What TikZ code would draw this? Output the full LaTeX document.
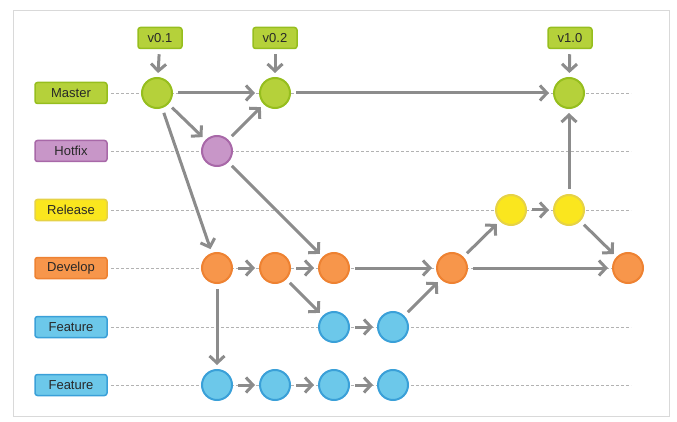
\documentclass[tikz,border=0pt]{standalone}
\usepackage{fontspec}
\setmainfont{Liberation Sans}
\usetikzlibrary{arrows.meta, positioning}
\definecolor{mygreen}{RGB}{181,209,58}
\definecolor{bdgreen}{RGB}{150,190,30}
\definecolor{mypurple}{RGB}{200,150,200}
\definecolor{bdpurple}{RGB}{168,104,168}
\definecolor{myyellow}{RGB}{250,230,30}
\definecolor{bdyellow}{RGB}{230,210,70}
\definecolor{myorange}{RGB}{247,150,75}
\definecolor{bdorange}{RGB}{238,130,50}
\definecolor{myblue}{RGB}{108,200,234}
\definecolor{bdblue}{RGB}{58,160,216}
\definecolor{mygray}{RGB}{140,140,140}
\definecolor{mytext}{RGB}{40,40,40}
\tikzset{
  branch/.style={rectangle, rounded corners=2.5pt, minimum width=72pt,
    minimum height=21pt, inner sep=0pt, line width=1.5pt,
    font=\fontsize{13}{15}\selectfont, text=mytext},
  tag/.style={branch, minimum width=44pt, draw=bdgreen, fill=mygreen},
  commit/.style={circle, minimum size=30pt, inner sep=0pt, line width=2pt},
  gcommit/.style={commit, draw=bdgreen, fill=mygreen},
  pcommit/.style={commit, draw=bdpurple, fill=mypurple},
  ycommit/.style={commit, draw=bdyellow, fill=myyellow},
  ocommit/.style={commit, draw=bdorange, fill=myorange},
  bcommit/.style={commit, draw=bdblue, fill=myblue},
  arrow/.style={-{Straight Barb[length=7pt, width=15pt]}, line width=3pt,
    color=mygray, shorten <=5pt, shorten >=4pt},
  guide/.style={densely dashed, line width=0.5pt, color=black!30}
}
\begin{document}
\begin{tikzpicture}[x=1pt, y=-1pt]
  \useasboundingbox (0,0) rectangle (677,422);
  \draw[black!15, line width=1pt] (13,11) rectangle (669,416);
  % Branch labels
  \node[branch, draw=bdgreen, fill=mygreen] (lmaster) at (71,93) {Master};
  \node[branch, draw=bdpurple, fill=mypurple] (lhotfix) at (71,151) {Hotfix};
  \node[branch, draw=bdyellow, fill=myyellow] (lrelease) at (71,210) {Release};
  \node[branch, draw=bdorange, fill=myorange] (ldevelop) at (71,268) {Develop};
  \node[branch, draw=bdblue, fill=myblue] (lfeatA) at (71,327) {Feature};
  \node[branch, draw=bdblue, fill=myblue] (lfeatB) at (71,385) {Feature};
  % Guide lines
  \foreach \l in {lmaster, lhotfix, lrelease, ldevelop, lfeatA, lfeatB}
    \draw[guide] (\l.east) ++(3,0) -- +(520,0);
  % Commits
  \node[gcommit] (m1) at (157,93) {};
  \node[gcommit] (m2) at (275,93) {};
  \node[gcommit] (m3) at (569,93) {};
  \node[pcommit] (h1) at (217,151) {};
  \node[ycommit] (r1) at (511,210) {};
  \node[ycommit] (r2) at (569,210) {};
  \node[ocommit] (d1) at (217,268) {};
  \node[ocommit] (d2) at (275,268) {};
  \node[ocommit] (d3) at (334,268) {};
  \node[ocommit] (d4) at (452,268) {};
  \node[ocommit] (d5) at (628,268) {};
  \node[bcommit] (fa1) at (334,327) {};
  \node[bcommit] (fa2) at (393,327) {};
  \node[bcommit] (fb1) at (217,385) {};
  \node[bcommit] (fb2) at (275,385) {};
  \node[bcommit] (fb3) at (334,385) {};
  \node[bcommit] (fb4) at (393,385) {};
  % Tags
  \node[tag] (v01) at (160,38) {v0.1};
  \node[tag] (v02) at (275,38) {v0.2};
  \node[tag] (v10) at (570,38) {v1.0};

  \draw[arrow] (v01) -- (m1);
  \draw[arrow] (v02) -- (m2);
  \draw[arrow] (v10) -- (m3);
  \draw[arrow] (m1) -- (m2);
  \draw[arrow] (m2) -- (m3);
  \draw[arrow] (m1) -- (h1);
  \draw[arrow] (h1) -- (m2);
  \draw[arrow] (m1) -- (d1);
  \draw[arrow] (h1) -- (d3);
  \draw[arrow] (d1) -- (d2);
  \draw[arrow] (d2) -- (d3);
  \draw[arrow] (d2) -- (fa1);
  \draw[arrow] (d3) -- (d4);
  \draw[arrow] (fa1) -- (fa2);
  \draw[arrow] (fa2) -- (d4);
  \draw[arrow] (d4) -- (r1);
  \draw[arrow] (r1) -- (r2);
  \draw[arrow] (r2) -- (m3);
  \draw[arrow] (r2) -- (d5);
  \draw[arrow] (d4) -- (d5);
  \draw[arrow] (d1) -- (fb1);
  \draw[arrow] (fb1) -- (fb2);
  \draw[arrow] (fb2) -- (fb3);
  \draw[arrow] (fb3) -- (fb4);
\end{tikzpicture}
\end{document}
